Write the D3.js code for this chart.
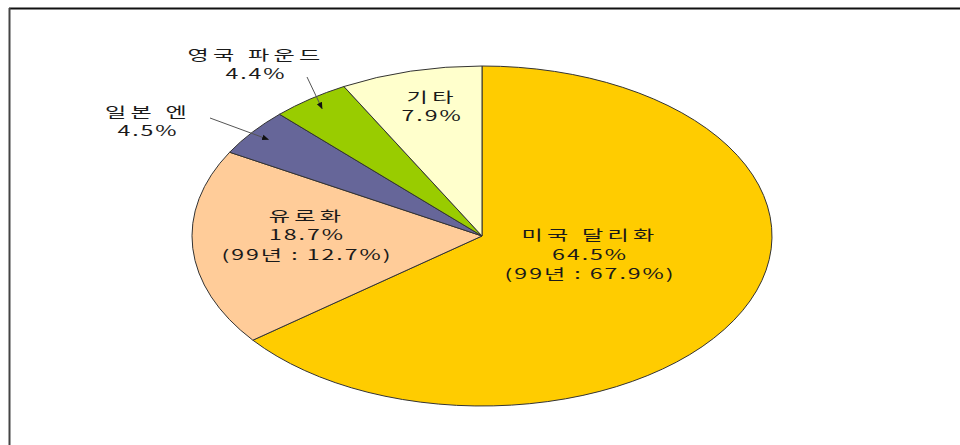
<!DOCTYPE html>
<html>
<head>
<meta charset="utf-8">
<script src="https://cdn.jsdelivr.net/npm/d3@7"></script>
<style>
    body { margin: 0; background: #fff; }
    text { font-family: "Noto Sans CJK KR", "Noto Sans", sans-serif; }
</style>
</head>
<body>
<div id="chart"></div>
<script>
// 통화별 비중 (%)
const categories = ["미국 달리화", "유로화", "일본 엔", "영국 파운드", "기타"];
const shares = [64.5, 18.7, 4.5, 4.4, 7.9];
const shares99 = [67.9, 12.7, null, null, null];
const couleurs = ["#ffcc00", "#ffcc99", "#666699", "#99cc00", "#ffffcc"];

const largeur = 960, hauteur = 445;
const cx = 482, cy = 236, rx = 290, ry = 170;
const etirement = 1.65; // texte etire horizontalement comme l'image d'origine

const svg = d3.select("#chart").append("svg")
    .attr("width", largeur)
    .attr("height", hauteur);

// cadre
svg.append("line").attr("x1", 9).attr("x2", largeur).attr("y1", 8.5).attr("y2", 8.5)
    .attr("stroke", "#111").attr("stroke-width", 2);
svg.append("line").attr("x1", 9.5).attr("x2", 9.5).attr("y1", 8).attr("y2", hauteur)
    .attr("stroke", "#444").attr("stroke-width", 2);

const pie = d3.pie().sort(null).value(d => d);
const arcs = pie(shares);
const arc = d3.arc().innerRadius(0).outerRadius(ry);

const g = svg.append("g")
    .attr("transform", "translate(" + cx + "," + cy + ") scale(" + (rx / ry) + ",1)");

g.selectAll("path")
    .data(arcs)
    .enter()
    .append("path")
    .attr("d", arc)
    .attr("fill", (d, i) => couleurs[i])
    .attr("stroke", "#333")
    .attr("stroke-width", 1)
    .attr("vector-effect", "non-scaling-stroke");

// point sur l'ellipse a un angle donne, k = fraction du rayon
function pointEllipse(angle, k) {
    return [cx + rx * k * Math.sin(angle), cy - ry * k * Math.cos(angle)];
}

function lignes(i) {
    const l = [categories[i], shares[i].toFixed(1) + "%"];
    if (shares99[i] != null) l.push("(99년 : " + shares99[i].toFixed(1) + "%)");
    return l;
}

// placement des etiquettes : dedans (k, dy) ou dehors avec fleche
const placement = [
    { k: 0.415, dy: -12 },
    { k: 0.605, dy: -8 },
    { dehors: true, tx: -334, ty: -124, fx: -272, fy: -118, k: 0.93 },
    { dehors: true, tx: -226, ty: -181, fx: -175, fy: -159, k: 0.93 },
    { k: 0.70, dy: -14 }
];

svg.append("defs").append("marker")
    .attr("id", "fleche")
    .attr("viewBox", "0 0 10 10")
    .attr("refX", 9).attr("refY", 5)
    .attr("markerWidth", 7).attr("markerHeight", 7)
    .attr("orient", "auto")
    .append("path")
    .attr("d", "M0,1 L10,5 L0,9 Z")
    .attr("fill", "#111");

arcs.forEach(function (d, i) {
    const p = placement[i];
    const mid = (d.startAngle + d.endAngle) / 2;
    let x, y;
    const l = lignes(i);
    if (p.dehors) {
        const bout = pointEllipse(mid, p.k);
        x = cx + p.tx;
        y = cy + p.ty;
        svg.append("line")
            .attr("x1", cx + p.fx).attr("y1", cy + p.fy)
            .attr("x2", bout[0]).attr("y2", bout[1])
            .attr("stroke", "#555").attr("stroke-width", 1)
            .attr("marker-end", "url(#fleche)");
    } else {
        const c = pointEllipse(mid, p.k);
        x = c[0];
        y = c[1] + p.dy - (l.length - 1) * 19.5 / 2;
    }
    const t = svg.append("g")
        .attr("transform", "translate(" + x + "," + y + ") scale(" + etirement + ",1)")
        .append("text")
        .attr("text-anchor", "middle")
        .attr("font-size", 14)
        .attr("fill", "#1a1a1a");
    l.forEach(function (s, j) {
        // le texte coreen de l'original est plus espace
        const espace = j == 0 ? 2.6 : 1.2;
        t.append("tspan")
            .attr("x", 0)
            .attr("y", j * 19.5)
            .attr("dy", "0.35em")
            .attr("letter-spacing", espace)
            .text(s);
    });
});
</script>
</body>
</html>
